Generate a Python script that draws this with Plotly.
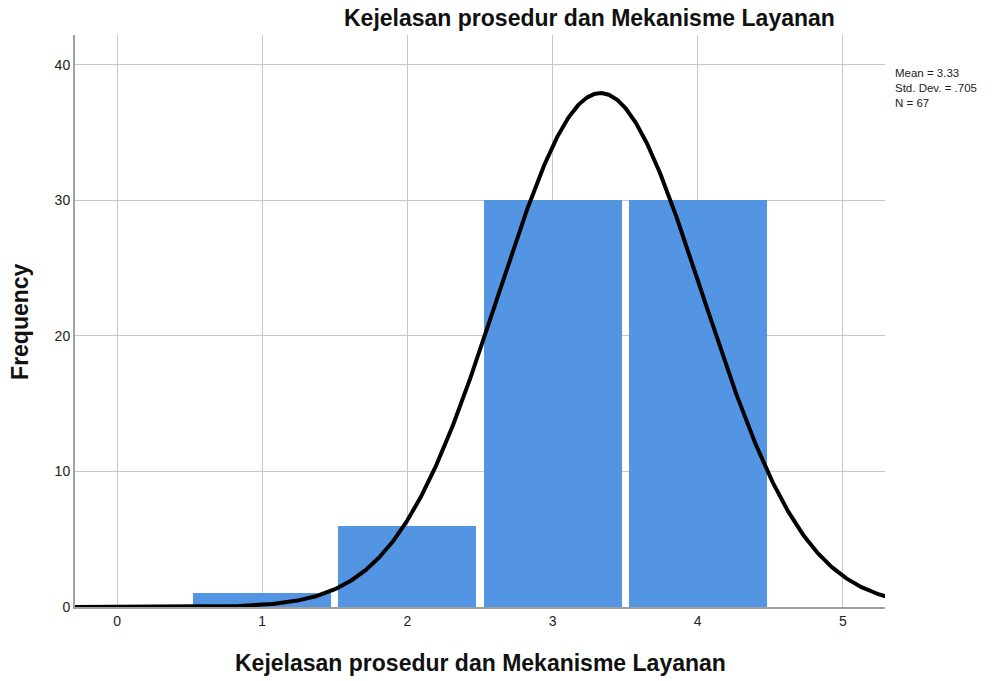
import numpy as np
import plotly.graph_objects as go

# histogram data (Kejelasan prosedur dan Mekanisme Layanan)
scores = [1, 2, 3, 4]
freq = [1, 6, 30, 30]

# summary stats printed on the chart
mean = 3.33
std_dev = 0.705
n = 67

title = "Kejelasan prosedur dan Mekanisme Layanan"

# fitted normal curve (bin width 1), evaluated over the axis range
xs = np.linspace(-0.3, 5.3, 800)
ys = n * np.exp(-0.5 * ((xs - mean) / std_dev) ** 2) / (std_dev * np.sqrt(2 * np.pi))

fig = go.Figure()
fig.add_trace(go.Bar(x=scores, y=freq, width=0.95,
                     marker=dict(color='#5495E3', line=dict(width=0)),
                     showlegend=False))
fig.add_trace(go.Scatter(x=xs, y=ys, mode='lines',
                         line=dict(color='black', width=4), showlegend=False))

font = "Liberation Sans, Arial, sans-serif"
axis_style = dict(showgrid=True, gridcolor='#c8c8c8', gridwidth=1,
                  showline=True, linecolor='#a0a0a0', linewidth=2,
                  zeroline=False, ticks='', ticklen=0, automargin=False,
                  tickfont=dict(size=14, color='#222'))
# the page body adds ~8px around the figure, margins are offset for that
fig.update_layout(
    width=1006, height=681,
    margin=dict(l=67, r=129, t=27, b=82),
    plot_bgcolor='white', paper_bgcolor='white',
    font=dict(family=font, size=14, color='#222'),
    xaxis=dict(range=[-0.29, 5.29], tickvals=[0, 1, 2, 3, 4, 5], **axis_style),
    yaxis=dict(range=[0, 42.2], tickvals=[0, 10, 20, 30, 40], **axis_style),
    bargap=0,
)

title_font = dict(family=font, size=23, color='#111')
fig.add_annotation(xref='paper', yref='paper', x=0.6346, y=1.0297,
                   text="<b>" + title + "</b>", showarrow=False,
                   xanchor='center', yanchor='middle', font=title_font)
fig.add_annotation(xref='paper', yref='paper', x=0.5, y=-0.098,
                   text="<b>" + title + "</b>", showarrow=False,
                   xanchor='center', yanchor='middle', font=title_font)
fig.add_annotation(xref='paper', yref='paper', x=-0.068, y=0.5,
                   text="<b>Frequency</b>", showarrow=False, textangle=-90,
                   xanchor='center', yanchor='middle', font=title_font)

fig.add_annotation(
    xref='paper', yref='paper', x=1.0099, y=0.948,
    text=f"Mean = {mean:.2f}<br>Std. Dev. = {str(std_dev)[1:]}<br>N = {n}",
    showarrow=False, xanchor='left', yanchor='top', align='left',
    font=dict(size=11.5, color='#222'),
)

fig.write_html("out.html")
